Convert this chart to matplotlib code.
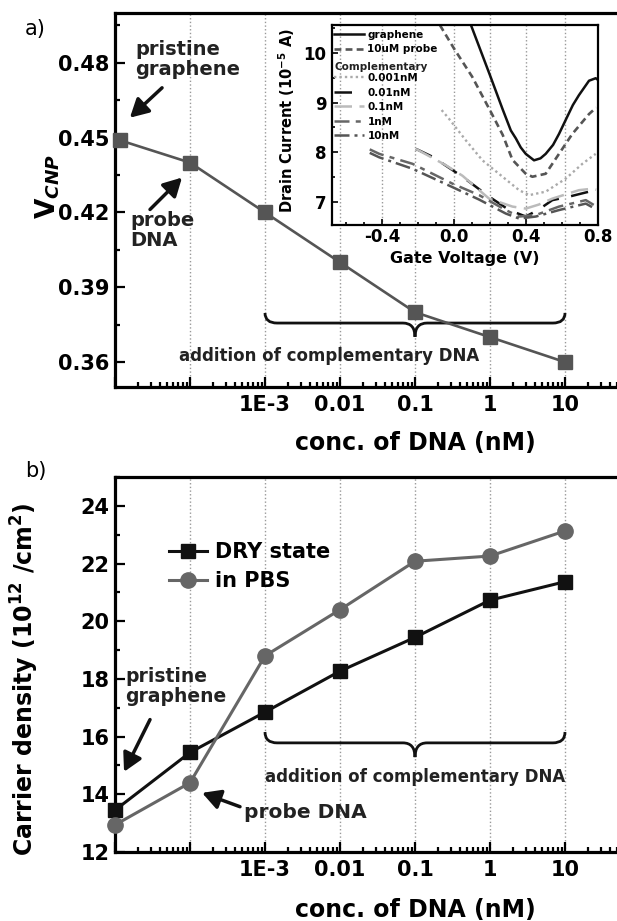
import numpy as np
import matplotlib
matplotlib.use('Agg')
import matplotlib.pyplot as plt
from matplotlib.path import Path
from matplotlib.patches import PathPatch
from matplotlib.ticker import LogLocator, MultipleLocator, NullFormatter, FormatStrFormatter

plt.rcParams.update({
    'font.family': ['DejaVu Sans'],
    'font.weight': 'bold',
    'axes.labelweight': 'bold',
    'axes.unicode_minus': False,
    'mathtext.fontset': 'custom',
    'mathtext.rm': 'DejaVu Sans:bold',
    'mathtext.it': 'DejaVu Sans:bold:italic',
    'mathtext.bf': 'DejaVu Sans:bold',
})

# ── data ────────────────────────────────────────────────────────────────────────
# x position of each sample on the log axis (pristine, probe, then complementary nM)
conc_a = [1.15e-5, 1e-4, 1e-3, 1e-2, 1e-1, 1, 10]
conc_b = [1e-5, 1e-4, 1e-3, 1e-2, 1e-1, 1, 10]
vcnp = [0.449, 0.44, 0.42, 0.40, 0.38, 0.37, 0.36]
dry_state = [13.45, 15.45, 16.85, 18.27, 19.44, 20.73, 21.37]
in_pbs = [12.94, 14.40, 18.80, 20.40, 22.08, 22.26, 23.13]

conc_ticks = [1e-5, 1e-4, 1e-3, 1e-2, 1e-1, 1, 10, 100]
conc_labels = ['', '', '1E-3', '0.01', '0.1', '1', '10', '']

# inset: drain current (1e-5 A) vs gate voltage (V)
graphene_v = [0.093, 0.20, 0.27, 0.315, 0.343, 0.37, 0.398, 0.444, 0.48, 0.509, 0.55, 0.583, 0.62, 0.66, 0.694, 0.75, 0.787, 0.795]
graphene_i = [10.56, 9.54, 8.86, 8.44, 8.28, 8.10, 7.97, 7.84, 7.88, 7.97, 8.15, 8.37, 8.65, 8.95, 9.15, 9.44, 9.49, 9.47]
probe_v = [-0.08, 0.0, 0.10, 0.21, 0.27, 0.324, 0.398, 0.435, 0.509, 0.583, 0.657, 0.75, 0.79]
probe_i = [10.56, 10.08, 9.52, 8.77, 8.35, 7.85, 7.57, 7.51, 7.57, 7.97, 8.37, 8.77, 8.90]
c0001_v = [-0.07, -0.03, 0.065, 0.157, 0.269, 0.361, 0.417, 0.509, 0.62, 0.713, 0.787]
c0001_i = [8.85, 8.68, 8.24, 7.84, 7.51, 7.24, 7.14, 7.21, 7.47, 7.77, 7.97]
c001_v = [-0.213, -0.12, 0.046, 0.194, 0.306, 0.398, 0.47, 0.546, 0.639, 0.75, 0.787]
c001_i = [8.07, 7.91, 7.51, 7.11, 6.84, 6.71, 6.85, 7.04, 7.11, 7.21, 7.14]
c01_v = [-0.213, -0.046, 0.046, 0.194, 0.324, 0.398, 0.47, 0.546, 0.694, 0.769, 0.79]
c01_i = [8.07, 7.74, 7.53, 7.07, 6.91, 6.87, 6.95, 7.07, 7.24, 7.27, 7.25]
c1_v = [-0.47, -0.417, -0.232, -0.009, 0.139, 0.287, 0.361, 0.454, 0.583, 0.732, 0.787]
c1_i = [8.06, 7.97, 7.77, 7.37, 7.14, 6.84, 6.71, 6.74, 6.91, 7.04, 6.92]
c10_v = [-0.47, -0.417, -0.232, -0.009, 0.139, 0.287, 0.361, 0.454, 0.583, 0.732, 0.787]
c10_i = [7.99, 7.90, 7.67, 7.30, 7.05, 6.77, 6.67, 6.71, 6.84, 6.97, 6.86]

# ── figure ──────────────────────────────────────────────────────────────────────
W, H = 617, 921
fig = plt.figure(figsize=(W / 100, H / 100), dpi=100)

XMIN, XMAX = 1e-5, 100


def frac_x(x):
    return (np.log10(x) - np.log10(XMIN)) / (np.log10(XMAX) - np.log10(XMIN))


def style_main(ax):
    ax.set_xscale('log')
    ax.set_xlim(XMIN, XMAX)
    ax.set_xticks(conc_ticks)
    ax.set_xticklabels(conc_labels)
    ax.xaxis.set_minor_locator(LogLocator(base=10, subs=np.arange(2, 10)))
    ax.xaxis.set_minor_formatter(NullFormatter())
    ax.tick_params(which='both', direction='in', top=False, right=False, width=1.6, labelsize=15)
    ax.tick_params(which='major', length=7)
    ax.tick_params(which='minor', length=3.5)
    ax.tick_params(axis='x', pad=6)
    ax.tick_params(axis='y', pad=4)
    ax.grid(axis='x', which='major', ls=':', color='#999999', lw=1.0)
    ax.set_axisbelow(True)
    for s in ax.spines.values():
        s.set_linewidth(2.3)
    ax.set_xlabel('conc. of DNA (nM)', fontsize=17)
    ax.xaxis.label.set_va('center')


def brace(ax, x0, x1, y_end, y_line, y_tip, r=0.023):
    a, b = frac_x(x0), frac_x(x1)
    c = (a + b) / 2
    verts = [(a, y_end), (a, y_line), (a + r, y_line), (c - r, y_line),
             (c, y_line), (c, y_tip), (c, y_line), (c + r, y_line),
             (b - r, y_line), (b, y_line), (b, y_end)]
    codes = [Path.MOVETO, Path.CURVE3, Path.CURVE3, Path.LINETO,
             Path.CURVE3, Path.CURVE3, Path.CURVE3, Path.CURVE3,
             Path.LINETO, Path.CURVE3, Path.CURVE3]
    ax.add_patch(PathPatch(Path(verts, codes), transform=ax.transAxes,
                           fill=False, lw=2.0, color='#111111', clip_on=False, zorder=4))


def arrow(ax, tail, head):
    ax.annotate('', xy=head, xytext=tail,
                arrowprops=dict(arrowstyle='-|>,head_length=0.55,head_width=0.3',
                                color='#111111', lw=2.5, shrinkA=0, shrinkB=0,
                                mutation_scale=20))


# ── a) V_CNP ────────────────────────────────────────────────────────────────────
ax1 = fig.add_axes([115 / W, 1 - 387 / H, 525 / W, 374 / H])
style_main(ax1)
ax1.set_ylim(0.35, 0.50)
ax1.yaxis.set_major_locator(MultipleLocator(0.03))
ax1.yaxis.set_minor_locator(MultipleLocator(0.015))
ax1.yaxis.set_major_formatter(FormatStrFormatter('%.2f'))
ax1.plot(conc_a, vcnp, color='#555555', lw=1.9, marker='s', ms=9.5, clip_on=False, zorder=5)
ax1.set_ylabel(r'$\mathrm{V}_{CNP}$', fontsize=19)
ax1.yaxis.label.set_va('center')
ax1.yaxis.set_label_coords(-0.128, 0.535)
ax1.xaxis.set_label_coords(0.573, -0.15)

ax1.text(1.85e-5, 0.4892, 'pristine\ngraphene', fontsize=14, va='top', ha='left',
         linespacing=1.05, color='#222222')
arrow(ax1, (4.24e-5, 0.470), (1.58e-5, 0.458))
ax1.text(1.58e-5, 0.4205, 'probe\nDNA', fontsize=14, va='top', ha='left',
         linespacing=1.05, color='#222222')
arrow(ax1, (2.93e-5, 0.4212), (7.82e-5, 0.434))
brace(ax1, 1e-3, 10, 0.198, 0.171, 0.134)
ax1.text(0.408, 0.083, 'addition of complementary DNA', transform=ax1.transAxes,
         fontsize=12, ha='center', va='center', color='#222222')

# inset
ax_in = fig.add_axes([332 / W, 1 - 225 / H, 266 / W, 200 / H])
ax_in.set_facecolor('none')
ax_in.plot(graphene_v, graphene_i, color='#111111', lw=1.8, label='graphene')
ax_in.plot(probe_v, probe_i, color='#555555', lw=1.9, dashes=(2.6, 1.6), label='10uM probe')
ax_in.plot([], [], color='none', label=' ')
ax_in.plot(c0001_v, c0001_i, color='#aaaaaa', lw=1.7, dashes=(1, 1.3), label='0.001nM')
ax_in.plot(c001_v, c001_i, color='#111111', lw=1.8, dashes=(7, 5), label='0.01nM')
ax_in.plot(c01_v, c01_i, color='#bbbbbb', lw=1.8, dashes=(7, 3), label='0.1nM')
ax_in.plot(c1_v, c1_i, color='#666666', lw=1.8, dashes=(6, 2.5, 2, 2.5), label='1nM')
ax_in.plot(c10_v, c10_i, color='#555555', lw=1.8, dashes=(6, 2, 1.2, 2), label='10nM')
ax_in.set_xlim(-0.68, 0.795)
ax_in.set_ylim(6.54, 10.56)
ax_in.set_xticks([-0.4, 0.0, 0.4, 0.8])
ax_in.set_xticklabels(['-0.4', '0.0', '0.4', '0.8'])
ax_in.xaxis.set_minor_locator(MultipleLocator(0.1))
ax_in.set_yticks([7, 8, 9, 10])
ax_in.yaxis.set_minor_locator(MultipleLocator(0.5))
ax_in.tick_params(which='both', direction='in', top=False, right=False, width=1.2, labelsize=12)
ax_in.tick_params(axis='x', pad=2.5)
ax_in.tick_params(axis='y', pad=4)
ax_in.tick_params(which='major', length=4)
ax_in.tick_params(which='minor', length=2)
ax_in.grid(axis='x', which='major', ls=':', color='#999999', lw=1.0)
for s in ax_in.spines.values():
    s.set_linewidth(1.6)
ax_in.set_xlabel('Gate Voltage (V)', fontsize=11.5)
ax_in.xaxis.label.set_va('center')
ax_in.xaxis.set_label_coords(0.5, -0.17)
ax_in.set_ylabel(r'Drain Current (10$^{-5}$ A)', fontsize=10.5)
ax_in.yaxis.label.set_va('center')
ax_in.yaxis.set_label_coords(-0.17, 0.52)
ax_in.legend(loc='upper left', bbox_to_anchor=(-0.01, 1.0), frameon=False, fontsize=7.5,
             handlelength=2.9, handletextpad=0.3, labelspacing=0.43,
             borderaxespad=0, borderpad=0.45)
ax_in.text(0.011, 0.79, 'Complementary', transform=ax_in.transAxes, fontsize=7.5,
           va='center', ha='left', color='#222222')

# ── b) carrier density ──────────────────────────────────────────────────────────
ax2 = fig.add_axes([115 / W, 1 - 852 / H, 525 / W, 375 / H])
style_main(ax2)
ax2.set_ylim(12, 25)
ax2.yaxis.set_major_locator(MultipleLocator(2))
ax2.yaxis.set_minor_locator(MultipleLocator(1))
ax2.plot(conc_b, dry_state, color='#111111', lw=2.2, marker='s', ms=10, clip_on=False,
         zorder=5, label='DRY state')
ax2.plot(conc_b, in_pbs, color='#666666', lw=2.2, marker='o', ms=11, clip_on=False,
         zorder=5, label='in PBS')
ax2.set_ylabel(r'Carrier density (10$^{12}$ /cm$^{2}$)', fontsize=17)
ax2.yaxis.label.set_va('center')
ax2.yaxis.set_label_coords(-0.171, 0.46)
ax2.xaxis.set_label_coords(0.573, -0.155)
ax2.legend(loc='upper left', bbox_to_anchor=(0.103, 0.826), frameon=False, fontsize=15,
           handlelength=1.8, handletextpad=0.4, labelspacing=0.42,
           borderaxespad=0, borderpad=0)

ax2.text(1.36e-5, 18.4, 'pristine\ngraphene', fontsize=13.5, va='top', ha='left',
         linespacing=1.05, color='#222222')
arrow(ax2, (2.93e-5, 16.59), (1.32e-5, 14.78))
ax2.text(5.25e-4, 13.36, 'probe DNA', fontsize=14.5, va='center', ha='left', color='#222222')
arrow(ax2, (4.64e-4, 13.57), (1.45e-4, 14.05))
brace(ax2, 1e-3, 10, 0.32, 0.291, 0.253)
ax2.text(0.571, 0.2, 'addition of complementary DNA', transform=ax2.transAxes,
         fontsize=12, ha='center', va='center', color='#222222')

# panel letters
fig.text(25 / W, 1 - 29 / H, 'a)', fontsize=15, fontweight='normal', va='center')
fig.text(25 / W, 1 - 471 / H, 'b)', fontsize=15, fontweight='normal', va='center')

fig.savefig('out.png', dpi=100)
